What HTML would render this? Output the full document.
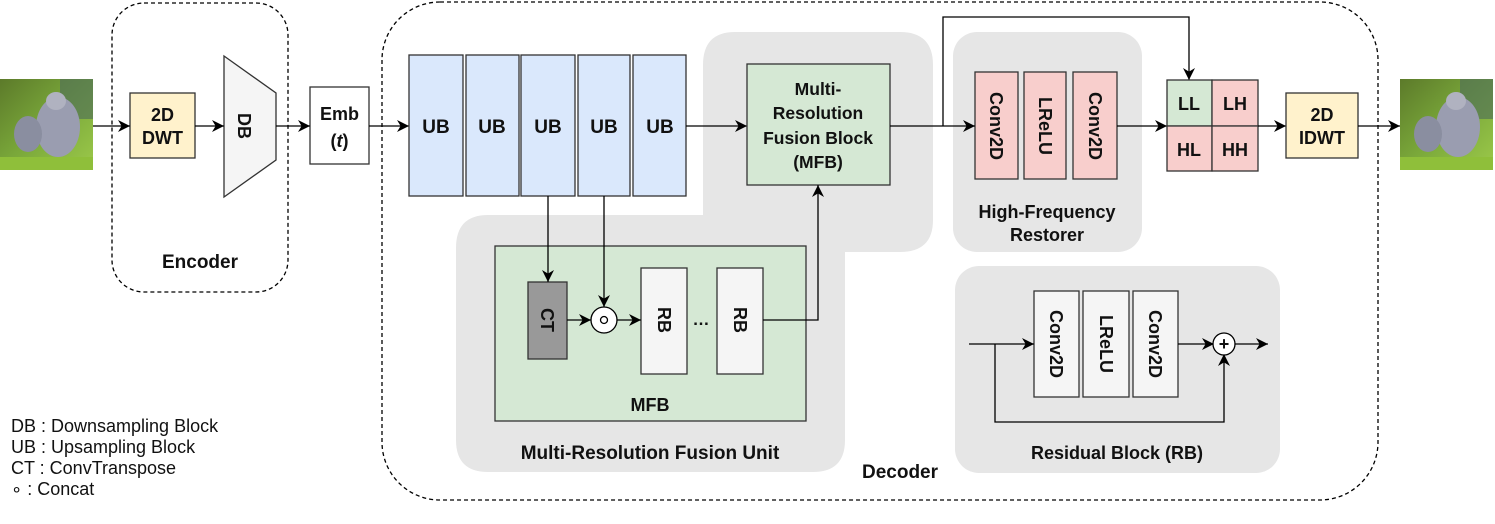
<!DOCTYPE html>
<html><head><meta charset="utf-8"><style>
html,body{margin:0;padding:0;background:#fff;width:1495px;height:524px;overflow:hidden}
svg{display:block}
text{font-family:"Liberation Sans",Arial,sans-serif;font-weight:bold;fill:#111}
</style></head><body>
<svg width="1495" height="524" viewBox="0 0 1495 524" xmlns="http://www.w3.org/2000/svg">
<defs>
<marker id="a" viewBox="0 0 10 10" refX="10" refY="5" markerWidth="12" markerHeight="12" markerUnits="userSpaceOnUse" orient="auto"><path d="M0,0 L10,5 L0,10 L3,5 z" fill="#000"/></marker>
<linearGradient id="g1" x1="0" y1="0" x2="1" y2="1"><stop offset="0" stop-color="#5c7a2a"/><stop offset="0.5" stop-color="#7aa83a"/><stop offset="1" stop-color="#9cc94a"/></linearGradient>
<g id="img">
<rect x="0" y="0" width="93" height="91" fill="url(#g1)"/>
<rect x="60" y="0" width="33" height="40" fill="#4d6b5a" opacity="0.6"/>
<ellipse cx="58" cy="48" rx="22" ry="30" fill="#9a9db0"/>
<ellipse cx="28" cy="55" rx="14" ry="18" fill="#8a8ea0"/>
<ellipse cx="56" cy="22" rx="10" ry="9" fill="#b0b2c0"/>
<rect x="0" y="78" width="93" height="13" fill="#8fbf3a"/>
</g>
</defs>

<use href="#img" x="0" y="79"/>
<use href="#img" x="1400" y="79"/>

<!-- Encoder -->
<rect x="112" y="3" width="176" height="289" rx="32" fill="none" stroke="#000" stroke-width="1.3" stroke-dasharray="4,3"/>
<rect x="130" y="93" width="65" height="65" fill="#fff2cc" stroke="#333" stroke-width="1.3"/>
<text x="162.5" y="121" font-size="18" text-anchor="middle">2D</text>
<text x="162.5" y="144" font-size="18" text-anchor="middle">DWT</text>
<polygon points="224,56 276,93 276,160 224,197" fill="#f5f5f5" stroke="#333" stroke-width="1.3"/>
<text font-size="18" text-anchor="middle" fill="#333" transform="translate(244,126) rotate(90)" dy="6">DB</text>
<text x="200" y="268" font-size="19" text-anchor="middle">Encoder</text>
<rect x="310" y="87" width="59" height="77" fill="#fff" stroke="#333" stroke-width="1.3"/>
<text x="339.5" y="120" font-size="18" text-anchor="middle">Emb</text>
<text x="339.5" y="147" font-size="18" text-anchor="middle">(<tspan font-style="italic">t</tspan>)</text>

<line x1="93" y1="126" x2="130" y2="126" stroke="#000" stroke-width="1.3" marker-end="url(#a)"/>
<line x1="195" y1="126" x2="224" y2="126" stroke="#000" stroke-width="1.3" marker-end="url(#a)"/>
<line x1="276" y1="126" x2="310" y2="126" stroke="#000" stroke-width="1.3" marker-end="url(#a)"/>
<line x1="369" y1="126" x2="409" y2="126" stroke="#000" stroke-width="1.3" marker-end="url(#a)"/>

<!-- Decoder -->
<rect x="382" y="2" width="996" height="498" rx="58" fill="none" stroke="#000" stroke-width="1.3" stroke-dasharray="4,3"/>
<text x="900" y="478" font-size="19" text-anchor="middle">Decoder</text>

<path d="M735,32 H900 Q933,32 933,65 V220 Q933,252 900,252 H845 V440 Q845,472 813,472 H488 Q456,472 456,440 V248 Q456,215 488,215 H703 V65 Q703,32 735,32 Z" fill="#e6e6e6"/>

<g stroke="#333" stroke-width="1.3" fill="#dae8fc">
<rect x="409" y="55" width="54" height="141"/>
<rect x="466" y="55" width="53" height="141"/>
<rect x="521" y="55" width="54" height="141"/>
<rect x="578" y="55" width="52" height="141"/>
<rect x="633" y="55" width="53" height="141"/>
</g>
<g font-size="19" text-anchor="middle">
<text x="436" y="133">UB</text><text x="492" y="133">UB</text><text x="548" y="133">UB</text><text x="604" y="133">UB</text><text x="660" y="133">UB</text>
</g>
<line x1="686" y1="126" x2="747" y2="126" stroke="#000" stroke-width="1.3" marker-end="url(#a)"/>

<rect x="747" y="64" width="143" height="121" fill="#d5e8d4" stroke="#333" stroke-width="1.3"/>
<g font-size="17.5" text-anchor="middle">
<text x="818" y="95">Multi-</text><text x="818" y="119">Resolution</text><text x="818" y="144">Fusion Block</text><text x="818" y="168">(MFB)</text>
</g>

<rect x="495" y="246" width="311" height="175" fill="#d5e8d4" stroke="#333" stroke-width="1.3"/>
<rect x="528" y="282" width="39" height="77" fill="#999" stroke="#333" stroke-width="1.3"/>
<text font-size="18" text-anchor="middle" fill="#333" transform="translate(547,320) rotate(90)" dy="6">CT</text>
<circle cx="604" cy="320" r="13" fill="#fff" stroke="#000" stroke-width="1.3"/>
<circle cx="604" cy="320" r="3.5" fill="none" stroke="#000" stroke-width="1.3"/>
<rect x="641" y="268" width="46" height="106" fill="#f5f5f5" stroke="#333" stroke-width="1.3"/>
<rect x="717" y="268" width="46" height="106" fill="#f5f5f5" stroke="#333" stroke-width="1.3"/>
<text font-size="18" text-anchor="middle" fill="#333" transform="translate(664,320) rotate(90)" dy="6">RB</text>
<text font-size="18" text-anchor="middle" fill="#333" transform="translate(740,320) rotate(90)" dy="6">RB</text>
<text x="701" y="325" font-size="17" text-anchor="middle">…</text>
<text x="650" y="411" font-size="18" text-anchor="middle">MFB</text>
<text x="650" y="459" font-size="19" text-anchor="middle">Multi-Resolution Fusion Unit</text>

<line x1="548" y1="196" x2="548" y2="282" stroke="#000" stroke-width="1.3" marker-end="url(#a)"/>
<line x1="604" y1="196" x2="604" y2="307" stroke="#000" stroke-width="1.3" marker-end="url(#a)"/>
<line x1="567" y1="320" x2="591" y2="320" stroke="#000" stroke-width="1.3" marker-end="url(#a)"/>
<line x1="617" y1="320" x2="641" y2="320" stroke="#000" stroke-width="1.3" marker-end="url(#a)"/>
<polyline points="763,320 818,320 818,185" fill="none" stroke="#000" stroke-width="1.3" marker-end="url(#a)"/>

<rect x="953" y="32" width="189" height="220" rx="24" fill="#e6e6e6"/>
<g stroke="#333" stroke-width="1.3" fill="#f8cecc">
<rect x="975" y="72" width="43" height="107"/>
<rect x="1024" y="72" width="42" height="107"/>
<rect x="1073" y="72" width="44" height="107"/>
</g>
<g font-size="18" text-anchor="middle">
<text transform="translate(996,126) rotate(90)" dy="6">Conv2D</text>
<text transform="translate(1045,126) rotate(90)" dy="6">LReLU</text>
<text transform="translate(1095,126) rotate(90)" dy="6">Conv2D</text>
</g>
<text x="1047" y="218" font-size="18" text-anchor="middle">High-Frequency</text>
<text x="1047" y="241" font-size="18" text-anchor="middle">Restorer</text>

<line x1="890" y1="126" x2="975" y2="126" stroke="#000" stroke-width="1.3" marker-end="url(#a)"/>
<polyline points="943,126 943,17 1189,17 1189,80" fill="none" stroke="#000" stroke-width="1.3" marker-end="url(#a)"/>
<line x1="1117" y1="126" x2="1167" y2="126" stroke="#000" stroke-width="1.3" marker-end="url(#a)"/>

<rect x="1167" y="80" width="45" height="46" fill="#d5e8d4" stroke="#333" stroke-width="1.3"/>
<rect x="1212" y="80" width="46" height="46" fill="#f8cecc" stroke="#333" stroke-width="1.3"/>
<rect x="1167" y="126" width="45" height="45" fill="#f8cecc" stroke="#333" stroke-width="1.3"/>
<rect x="1212" y="126" width="46" height="45" fill="#f8cecc" stroke="#333" stroke-width="1.3"/>
<g font-size="18" text-anchor="middle">
<text x="1189" y="110">LL</text><text x="1235" y="110">LH</text>
<text x="1189" y="156">HL</text><text x="1235" y="156">HH</text>
</g>
<line x1="1258" y1="126" x2="1286" y2="126" stroke="#000" stroke-width="1.3" marker-end="url(#a)"/>
<rect x="1286" y="93" width="72" height="65" fill="#fff2cc" stroke="#333" stroke-width="1.3"/>
<text x="1322" y="121" font-size="18" text-anchor="middle">2D</text>
<text x="1322" y="144" font-size="18" text-anchor="middle">IDWT</text>
<line x1="1358" y1="126" x2="1400" y2="126" stroke="#000" stroke-width="1.3" marker-end="url(#a)"/>

<rect x="955" y="266" width="325" height="207" rx="24" fill="#e6e6e6"/>
<g stroke="#333" stroke-width="1.3" fill="#f5f5f5">
<rect x="1034" y="291" width="45" height="106"/>
<rect x="1083" y="291" width="46" height="106"/>
<rect x="1133" y="291" width="45" height="106"/>
</g>
<g font-size="18" text-anchor="middle">
<text transform="translate(1056,344) rotate(90)" dy="6" fill="#333">Conv2D</text>
<text transform="translate(1106,344) rotate(90)" dy="6" fill="#333">LReLU</text>
<text transform="translate(1155,344) rotate(90)" dy="6" fill="#333">Conv2D</text>
</g>
<line x1="969" y1="344" x2="1034" y2="344" stroke="#000" stroke-width="1.3" marker-end="url(#a)"/>
<polyline points="995,344 995,422 1224,422 1224,354" fill="none" stroke="#000" stroke-width="1.3" marker-end="url(#a)"/>
<line x1="1178" y1="344" x2="1214" y2="344" stroke="#000" stroke-width="1.3" marker-end="url(#a)"/>
<circle cx="1224" cy="344" r="11" fill="#fff" stroke="#000" stroke-width="1.3"/>
<text x="1224" y="350" font-size="18" text-anchor="middle">+</text>
<line x1="1235" y1="344" x2="1268" y2="344" stroke="#000" stroke-width="1.3" marker-end="url(#a)"/>
<text x="1117" y="459" font-size="18" text-anchor="middle">Residual Block (RB)</text>

<g font-size="18">
<text x="11" y="432" style="font-weight:normal">DB : Downsampling Block</text>
<text x="11" y="453" style="font-weight:normal">UB : Upsampling Block</text>
<text x="11" y="474" style="font-weight:normal">CT : ConvTranspose</text>
<text x="11" y="495" style="font-weight:normal">∘ : Concat</text>
</g>
</svg>
</body></html>
